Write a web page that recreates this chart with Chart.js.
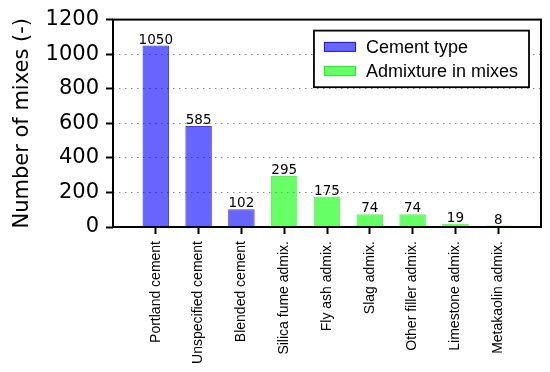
<!DOCTYPE html>
<html>
<head>
<meta charset="utf-8">
<script src="https://cdn.jsdelivr.net/npm/chart.js@4/dist/chart.umd.min.js"></script>
<style>
html, body { margin: 0; padding: 0; background: #fff; }
#wrap { width: 550px; height: 372px; }
</style>
</head>
<body>
<div id="wrap"><canvas id="c" width="550" height="372"></canvas></div>
<script>
const categories = ["Portland cement", "Unspecified cement", "Blended cement", "Silica fume admix.", "Fly ash admix.", "Slag admix.", "Other filler admix.", "Limestone admix.", "Metakaolin admix."];
const cementValues = [1050, 585, 102];
const admixValues = [295, 175, 74, 74, 19, 8];
const seriesNames = ["Cement type", "Admixture in mixes"];
const yTicks = [0, 200, 400, 600, 800, 1000, 1200];
const yTitle = "Number of mixes (-)";

const cementData = cementValues.map((v, i) => ({ x: i, y: v }));
const admixData = admixValues.map((v, i) => ({ x: i + cementValues.length, y: v }));

const valueLabels = {
  id: 'valueLabels',
  afterDatasetsDraw(chart) {
    const ctx = chart.ctx;
    ctx.save();
    ctx.font = '13.5px "DejaVu Sans"';
    ctx.fillStyle = '#000';
    ctx.textAlign = 'center';
    ctx.textBaseline = 'alphabetic';
    chart.data.datasets.forEach((ds, di) => {
      const meta = chart.getDatasetMeta(di);
      meta.data.forEach((el, i) => {
        ctx.fillText(String(ds.data[i].y), el.x, el.y - 2);
      });
    });
    ctx.restore();
  }
};

const frame = {
  id: 'frame',
  afterDraw(chart) {
    const a = chart.chartArea;
    const ctx = chart.ctx;
    ctx.save();
    ctx.strokeStyle = '#000';
    ctx.lineWidth = 2;
    ctx.strokeRect(a.left, a.top, a.right - a.left, a.bottom - a.top);
    ctx.restore();
  }
};

const boxLegend = {
  id: 'boxLegend',
  afterDraw(chart) {
    const a = chart.chartArea;
    const ctx = chart.ctx;
    ctx.save();
    ctx.font = '18px "Liberation Sans"';
    const dsets = chart.data.datasets;
    let tw = 0;
    dsets.forEach(d => { tw = Math.max(tw, ctx.measureText(d.label).width); });
    const padL = 10, sw = 32, sh = 10, gap = 10, padR = 11, rowH = 24, padV = 16.3;
    const w = padL + sw + gap + tw + padR;
    const h = padV * 2 + rowH * (dsets.length - 1);
    const x0 = a.right - 12 - w;
    const y0 = a.top + 11;
    ctx.fillStyle = '#fff';
    ctx.fillRect(x0, y0, w, h);
    ctx.strokeStyle = '#000';
    ctx.lineWidth = 1.8;
    ctx.strokeRect(x0, y0, w, h);
    dsets.forEach((d, i) => {
      const cy = y0 + padV + rowH * i;
      ctx.fillStyle = d.backgroundColor;
      ctx.fillRect(x0 + padL, cy - sh / 2, sw, sh);
      ctx.strokeStyle = d.borderColor;
      ctx.lineWidth = 1;
      ctx.strokeRect(x0 + padL + 0.5, cy - sh / 2 + 0.5, sw - 1, sh - 1);
      ctx.fillStyle = '#000';
      ctx.textAlign = 'left';
      ctx.textBaseline = 'middle';
      ctx.fillText(d.label, x0 + padL + sw + gap, cy + 1);
    });
    ctx.restore();
  }
};

new Chart(document.getElementById('c'), {
  type: 'bar',
  data: {
    datasets: [
      { label: seriesNames[0], data: cementData, backgroundColor: 'rgba(0,0,255,0.6)', borderColor: 'rgba(0,0,230,0.75)', borderWidth: 1, grouped: false, categoryPercentage: 1, barPercentage: 0.62 },
      { label: seriesNames[1], data: admixData, backgroundColor: 'rgba(0,255,0,0.6)', borderColor: 'rgba(0,220,0,0.6)', borderWidth: 1, grouped: false, categoryPercentage: 1, barPercentage: 0.62 }
    ]
  },
  options: {
    responsive: false,
    animation: false,
    devicePixelRatio: 1,
    layout: { padding: { left: 0, right: 9, top: 17, bottom: 0 } },
    plugins: { legend: { display: false }, tooltip: { enabled: false } },
    scales: {
      x: {
        type: 'linear',
        offset: false,
        min: -1,
        max: categories.length,
        afterBuildTicks: s => { s.ticks = categories.map((c, i) => ({ value: i })); },
        afterFit: s => { s.height = 145; },
        ticks: {
          autoSkip: false,
          minRotation: 90,
          maxRotation: 90,
          padding: 7,
          color: '#000',
          font: { family: 'Liberation Sans', size: 14 },
          callback: v => categories[v]
        },
        grid: { display: true, offset: false, drawOnChartArea: false, drawTicks: true, tickLength: 7, tickColor: '#000', tickWidth: 2 },
        border: { display: false }
      },
      y: {
        min: 0,
        max: 1200,
        afterBuildTicks: s => { s.ticks = yTicks.map(v => ({ value: v })); },
        afterFit: s => { s.width = 113; },
        ticks: { padding: 7, color: '#000', font: { family: 'DejaVu Sans', size: 21 }, callback: v => String(v) },
        grid: { color: '#888', lineWidth: 1, tickLength: 7, tickColor: '#000', tickWidth: 2, tickBorderDash: [] },
        border: { display: false, dash: [1.5, 4.5] },
        title: { display: true, text: yTitle, color: '#000', font: { family: 'DejaVu Sans', size: 21 }, padding: { top: 10, bottom: 0 } }
      }
    }
  },
  plugins: [valueLabels, frame, boxLegend]
});
</script>
</body>
</html>
